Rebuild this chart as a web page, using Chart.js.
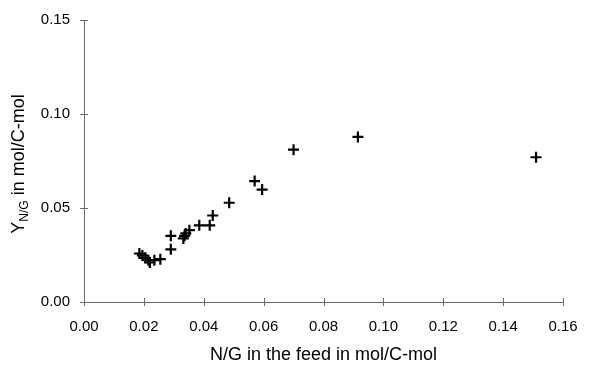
<!DOCTYPE html>
<html>
<head>
<meta charset="utf-8">
<script src="https://cdn.jsdelivr.net/npm/chart.js@4/dist/chart.umd.min.js"></script>
<style>
  html, body { margin: 0; padding: 0; background: #fff; }
  #wrap { width: 589px; height: 367px; }
</style>
</head>
<body>
<div id="wrap"><canvas id="c" width="589" height="367"></canvas></div>
<script>
// N/G ratio in the feed (mol/C-mol)
const feedRatio = [0.0185, 0.0195, 0.0205, 0.0215, 0.0220, 0.0235, 0.0255,
                   0.0290, 0.0290, 0.0332, 0.0336, 0.0340, 0.0352, 0.0385,
                   0.0420, 0.0430, 0.0485, 0.0570, 0.0595, 0.0700, 0.0915, 0.1510];
// Yield Y_N/G (mol/C-mol)
const yieldNG   = [0.0258, 0.0248, 0.0235, 0.0222, 0.0210, 0.0222, 0.0228,
                   0.0280, 0.0352, 0.0338, 0.0352, 0.0365, 0.0382, 0.0408,
                   0.0408, 0.0460, 0.0528, 0.0643, 0.0598, 0.0810, 0.0878, 0.0770];
const xTickLabels = ['0.00', '0.02', '0.04', '0.06', '0.08', '0.10', '0.12', '0.14', '0.16'];
const yTickLabels = ['0.00', '0.05', '0.10', '0.15'];

const FONT = "'Liberation Sans', Arial, sans-serif";
const AXIS_COLOR = '#6a6a6a';

const points = feedRatio.map((x, i) => ({ x: x, y: yieldNG[i] }));

// Axis lines with tick marks crossing them, placed through the chart's scales
const axesPlugin = {
  id: 'crossAxes',
  beforeDatasetsDraw(chart) {
    const { ctx, scales: { x, y } } = chart;
    const y0 = y.getPixelForValue(0);
    const x0 = x.getPixelForValue(0);
    ctx.save();
    ctx.strokeStyle = AXIS_COLOR;
    ctx.lineWidth = 1;
    ctx.beginPath();
    ctx.moveTo(x0, Math.round(y0) + 0.5);
    ctx.lineTo(x.right, Math.round(y0) + 0.5);
    ctx.moveTo(Math.round(x0) + 0.5, y0);
    ctx.lineTo(Math.round(x0) + 0.5, y.top);
    x.ticks.forEach(t => {
      const px = Math.round(x.getPixelForValue(t.value)) + 0.5;
      ctx.moveTo(px, y0 - 4);
      ctx.lineTo(px, y0 + 4);
    });
    y.ticks.forEach(t => {
      const py = Math.round(y.getPixelForValue(t.value)) + 0.5;
      ctx.moveTo(x0 - 4, py);
      ctx.lineTo(x0 + 4, py);
    });
    ctx.stroke();
    ctx.restore();
  }
};

// Rotated y-axis title with the N/G subscript
const yTitlePlugin = {
  id: 'yTitle',
  afterDraw(chart) {
    const { ctx, chartArea } = chart;
    const main = '18px ' + FONT;
    const sub = '12px ' + FONT;
    const parts = [
      { text: 'Y', font: main, dy: 0 },
      { text: 'N/G', font: sub, dy: 4 },
      { text: ' in mol/C-mol', font: main, dy: 0 }
    ];
    ctx.save();
    let total = 0;
    parts.forEach(p => { ctx.font = p.font; p.w = ctx.measureText(p.text).width; total += p.w; });
    const cy = (chartArea.top + chartArea.bottom) / 2 + 3;
    ctx.translate(24, cy);
    ctx.rotate(-Math.PI / 2);
    ctx.fillStyle = '#000';
    ctx.textBaseline = 'alphabetic';
    let cx = -total / 2;
    parts.forEach(p => {
      ctx.font = p.font;
      ctx.fillText(p.text, cx, p.dy);
      cx += p.w;
    });
    ctx.restore();
  }
};

new Chart(document.getElementById('c'), {
  type: 'scatter',
  data: {
    datasets: [{
      data: points,
      pointStyle: 'cross',
      pointRadius: 5.5,
      pointHoverRadius: 5.5,
      borderColor: '#000',
      backgroundColor: '#000',
      borderWidth: 2.2,
      showLine: false
    }]
  },
  options: {
    responsive: false,
    animation: false,
    devicePixelRatio: 1,
    layout: { padding: { top: 20, right: 26, left: 0, bottom: 0 } },
    plugins: { legend: { display: false }, tooltip: { enabled: false } },
    scales: {
      x: {
        type: 'linear',
        min: 0, max: 0.16,
        grid: { display: false, drawTicks: false },
        border: { display: false },
        ticks: {
          stepSize: 0.02,
          padding: 16,
          color: '#000',
          font: { family: FONT, size: 15 },
          maxRotation: 0,
          callback: (v, i) => xTickLabels[i]
        },
        title: {
          display: true,
          text: 'N/G in the feed in mol/C-mol',
          color: '#000',
          font: { family: FONT, size: 18 },
          padding: { top: 0, bottom: 1 }
        },
        afterFit: s => { s.height = 65; s.paddingLeft = 0; s.paddingRight = 0; }
      },
      y: {
        type: 'linear',
        min: 0, max: 0.15,
        grid: { display: false, drawTicks: false },
        border: { display: false },
        ticks: {
          stepSize: 0.05,
          padding: 14,
          color: '#000',
          font: { family: FONT, size: 15 },
          callback: (v, i) => yTickLabels[i]
        },
        afterFit: s => { s.width = 84; s.paddingTop = 0; s.paddingBottom = 0; }
      }
    }
  },
  plugins: [axesPlugin, yTitlePlugin]
});
</script>
</body>
</html>
